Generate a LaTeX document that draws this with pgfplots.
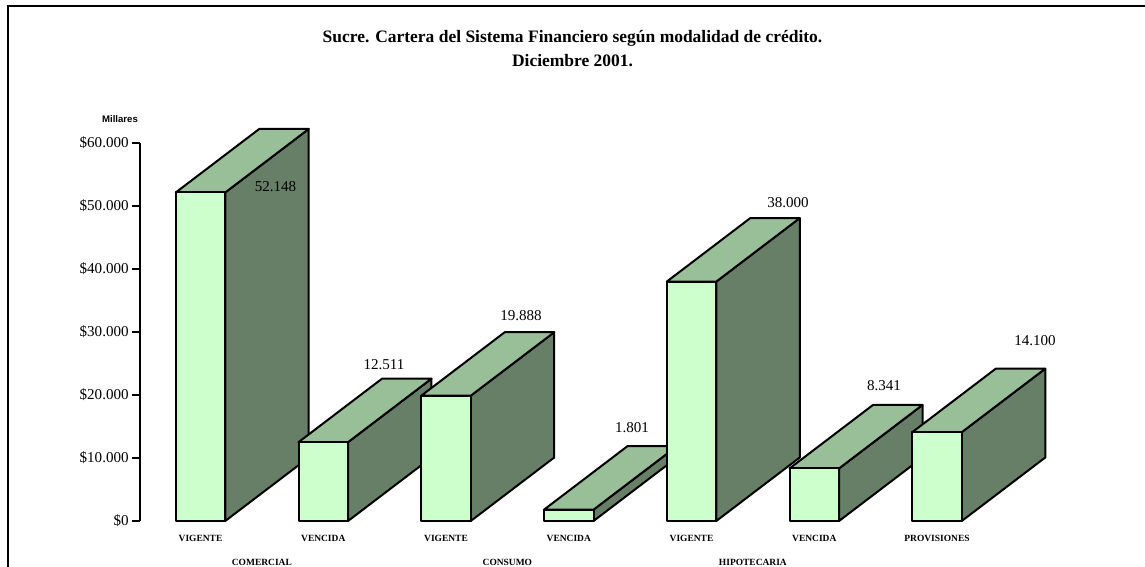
\documentclass[border=0pt]{standalone}
\usepackage{pgfplots}
\pgfplotsset{compat=1.18}
\usepackage{fontspec}
\setmainfont{Liberation Serif}
\newfontfamily\sansb{Liberation Sans}
\definecolor{frontc}{HTML}{CCFFCC}
\definecolor{topc}{HTML}{99BF99}
\definecolor{sidec}{HTML}{667F66}
% one 3D block: left, right, left-back, right-back, value, value + depth
\newcommand{\block}[6]{%
  \addplot[draw=black,line width=1.5pt,line join=round,fill=sidec,mark=none] coordinates {(#2,0)(#4,10079)(#4,#6)(#2,#5)} -- cycle;
  \addplot[draw=black,line width=1.5pt,line join=round,fill=topc,mark=none] coordinates {(#1,#5)(#2,#5)(#4,#6)(#3,#6)} -- cycle;
  \addplot[draw=black,line width=1.5pt,line join=round,fill=frontc,mark=none] coordinates {(#1,0)(#2,0)(#2,#5)(#1,#5)} -- cycle;
}
\begin{document}
\begin{tikzpicture}[x=0.75pt,y=0.75pt]
\path[use as bounding box] (0,0) rectangle (1145,567);
\draw[line width=1.5pt] (8,0) -- (8,560.5) -- (1145,560.5);
\node[font=\bfseries\fontsize{13.1pt}{15pt}\selectfont] at (572.5,528.8) {Sucre. Cartera del Sistema Financiero según modalidad de crédito.};
\node[font=\bfseries\fontsize{13.1pt}{15pt}\selectfont] at (572.5,506.3) {Diciembre 2001.};
\node[font=\sansb\bfseries\fontsize{7.2pt}{8pt}\selectfont] at (120,448) {Millares};
\begin{axis}[
  at={(105pt,34.5pt)},anchor=south west,
  scale only axis,width=742.5pt,height=283.5pt,
  xmin=-0.4929,xmax=7.572,ymin=0,ymax=60000,
  clip=false,
  axis y line=left,axis x line=bottom,
  axis line style={-,line width=0.9pt},
  x axis line style={draw=none},
  xtick={0,1,2,3,4,5,6},
  xticklabels={VIGENTE,VENCIDA,VIGENTE,VENCIDA,VIGENTE,VENCIDA,PROVISIONES},
  xtick style={draw=none},
  xticklabel style={font=\bfseries\fontsize{7.1pt}{8pt}\selectfont,yshift=-1.5pt},
  ytick={0,10000,20000,30000,40000,50000,60000},
  yticklabels={\$0,\$10.000,\$20.000,\$30.000,\$40.000,\$50.000,\$60.000},
  ytick style={line width=0.9pt,black},
  tick align=outside,major tick length=6pt,
  yticklabel style={font=\fontsize{11.3pt}{13pt}\selectfont,xshift=1pt},
  scaled ticks=false,
]
\block{-0.2016}{0.2016}{0.4784}{0.8816}{52148}{62227}
\block{0.7984}{1.2016}{1.4784}{1.8816}{12511}{22590}
\block{1.7984}{2.2016}{2.4784}{2.8816}{19888}{29967}
\block{2.7984}{3.2016}{3.4784}{3.8816}{1801}{11880}
\block{3.7984}{4.2016}{4.4784}{4.8816}{38000}{48079}
\block{4.7984}{5.2016}{5.4784}{5.8816}{8341}{18420}
\block{5.7984}{6.2016}{6.4784}{6.8816}{14100}{24179}
\addplot[draw=none,mark=none,forget plot,nodes near coords,point meta=explicit symbolic,
  nodes near coords style={anchor=center,font=\fontsize{11.3pt}{13pt}\selectfont,text=black,inner sep=0pt}]
  coordinates {
  (0.611,53016)[52.148]
  (1.495,24762)[12.511]
  (2.611,32540)[19.888]
  (3.515,14762)[1.801]
  (4.786,50476)[38.000]
  (5.568,21429)[8.341]
  (6.798,28571)[14.100]
  };
\node[font=\bfseries\fontsize{7.1pt}{8pt}\selectfont] at (axis cs:0.5,-6560) {COMERCIAL};
\node[font=\bfseries\fontsize{7.1pt}{8pt}\selectfont] at (axis cs:2.5,-6560) {CONSUMO};
\node[font=\bfseries\fontsize{7.1pt}{8pt}\selectfont] at (axis cs:4.5,-6560) {HIPOTECARIA};
\end{axis}
\end{tikzpicture}
\end{document}
